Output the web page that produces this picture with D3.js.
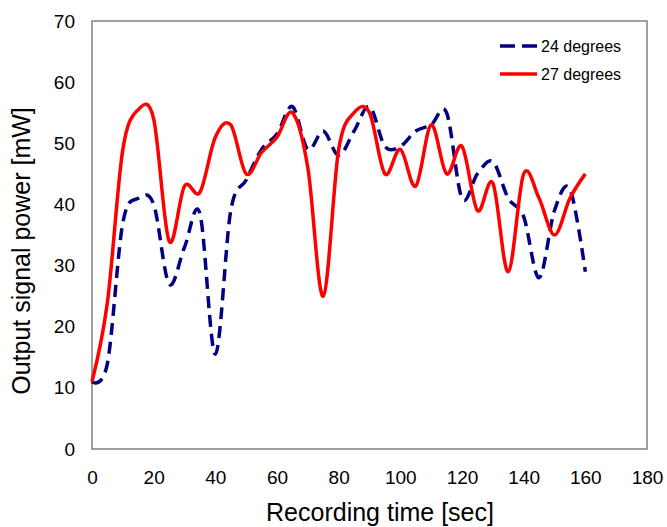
<!DOCTYPE html>
<meta charset="utf-8" />
<script src="https://d3js.org/d3.v7.min.js"></script>
<body style="margin:0;background:#fff">
<svg id="chart" width="667" height="527"></svg>
<script>
/* DATA -------------------------------------------------------------------- */
const times=[0,5,10,15,20,25,30,35,40,45,50,55,60,65,70,75,80,85,90,95,100,
             105,110,115,120,125,130,135,140,145,150,155,160];
const deg24=[11,14,37,41,40,27,33,38.5,15.5,39,44,49,51.5,56,49,52,48,52,56,49.5,49.5,
             52,53,55,41,45,47,41,38,28,39,42.5,29];
const deg27=[11,24,49,55.5,54,34,43,42,51,53,45,48.5,51,55,46,25,49,55,55,45,49,
             43,53,45,49.5,39,43.5,29,45,41,35,41,45];
const seriesNames=["24 degrees","27 degrees"];
const xTicks=d3.range(0,181,20), yTicks=d3.range(0,71,10);

/* LAYOUT ------------------------------------------------------------------ */
const L=92,T=21,W=555,H=428,font="Arial, 'Liberation Sans', sans-serif";
const x=d3.scaleLinear().domain([0,180]).range([0,W]);
const y=d3.scaleLinear().domain([0,70]).range([H,0]);
const svg=d3.select("#chart").style("font-family",font);
const g=svg.append("g").attr("transform",`translate(${L},${T})`);

/* axes (labels only, no tick marks) */
g.append("g").attr("transform",`translate(0,${H})`)
  .call(d3.axisBottom(x).tickValues(xTicks).tickSize(0).tickPadding(22))
  .call(a=>{a.select(".domain").remove();
    a.selectAll("text").attr("font-size",19).attr("font-family",font).attr("fill","#000");});
g.append("g")
  .call(d3.axisLeft(y).tickValues(yTicks).tickSize(0).tickPadding(17))
  .call(a=>{a.select(".domain").remove();
    a.selectAll("text").attr("font-size",19).attr("font-family",font).attr("fill","#000");});

/* frame */
g.append("rect").attr("width",W).attr("height",H)
  .attr("fill","none").attr("stroke","#6e6e6e").attr("stroke-width",1.3);

/* lines ------------------------------------------------------------------- */
const line=d3.line().x(d=>x(d[0])).y(d=>y(d[1])).curve(d3.curveCardinal.tension(0));
const styles=[{c:"#000080",dash:"12,7"},{c:"#ff0000",dash:null}];
[deg24,deg27].forEach((vals,i)=>{
  g.append("path").datum(times.map((t,j)=>[t,vals[j]]))
    .attr("d",line).attr("fill","none")
    .attr("stroke",styles[i].c).attr("stroke-width",3.5)
    .attr("stroke-dasharray",styles[i].dash);
});

/* legend */
const leg=svg.append("g").attr("transform","translate(500,46)");
seriesNames.forEach((n,i)=>{
  const r=leg.append("g").attr("transform",`translate(0,${i*28})`);
  r.append("line").attr("x1",0).attr("x2",37).attr("stroke",styles[i].c)
    .attr("stroke-width",3.5).attr("stroke-dasharray",styles[i].dash?"15,7":null);
  r.append("text").attr("x",41).attr("y",6).attr("font-size",16).text(n);
});

/* axis titles */
svg.append("text").attr("x",380).attr("y",521).attr("text-anchor","middle")
  .attr("font-size",25).text("Recording time [sec]");
svg.append("text").attr("transform","translate(30,251) rotate(-90)")
  .attr("text-anchor","middle").attr("font-size",25).text("Output signal power [mW]");
</script>
</body>
